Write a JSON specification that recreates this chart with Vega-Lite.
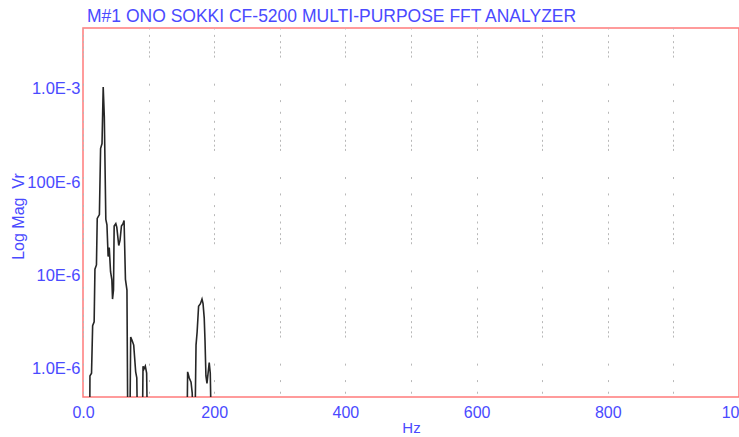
{
  "$schema": "https://vega.github.io/schema/vega-lite/v6.json",
  "autosize": "none",
  "width": 656,
  "height": 369,
  "padding": {"left": 83, "top": 28, "right": 0, "bottom": 40},
  "background": "white",
  "config": {
    "view": {"stroke": "#ff7b7b", "strokeWidth": 1.5},
    "font": "Liberation Sans"
  },
  "title": {
    "text": "M#1 ONO SOKKI CF-5200 MULTI-PURPOSE FFT ANALYZER",
    "anchor": "start",
    "frame": "group",
    "dx": 4,
    "offset": 3,
    "font": "Liberation Sans",
    "fontSize": 17.5,
    "fontWeight": "normal",
    "color": "#4a4aff"
  },
  "data": {
    "values": [
      {"hz": 0, "mag": 1e-7},
      {"hz": 10, "mag": 1e-7},
      {"hz": 10.6, "mag": 8.4e-7},
      {"hz": 13, "mag": 9e-7},
      {"hz": 14.7, "mag": 2.9e-6},
      {"hz": 17, "mag": 3.2e-6},
      {"hz": 18.2, "mag": 1.17e-5},
      {"hz": 20.5, "mag": 1.3e-5},
      {"hz": 21.7, "mag": 4.1e-5},
      {"hz": 25, "mag": 4.5e-5},
      {"hz": 26.8, "mag": 2.3e-4},
      {"hz": 29, "mag": 2.6e-4},
      {"hz": 30.8, "mag": 1.05e-3},
      {"hz": 32.5, "mag": 5e-4},
      {"hz": 34.8, "mag": 4e-5},
      {"hz": 36.5, "mag": 3.5e-5},
      {"hz": 38.3, "mag": 1.6e-5},
      {"hz": 40, "mag": 2e-5},
      {"hz": 42, "mag": 1.1e-5},
      {"hz": 44, "mag": 9e-6},
      {"hz": 45, "mag": 5.6e-6},
      {"hz": 46.5, "mag": 7e-6},
      {"hz": 47.5, "mag": 3.4e-5},
      {"hz": 50, "mag": 3.6e-5},
      {"hz": 51.5, "mag": 3.3e-5},
      {"hz": 54.5, "mag": 2.1e-5},
      {"hz": 56.5, "mag": 2.4e-5},
      {"hz": 58.6, "mag": 3.4e-5},
      {"hz": 61, "mag": 3.6e-5},
      {"hz": 62.6, "mag": 3.9e-5},
      {"hz": 64.7, "mag": 9.1e-6},
      {"hz": 67, "mag": 7e-6},
      {"hz": 68.6, "mag": 1e-7},
      {"hz": 71, "mag": 1e-7},
      {"hz": 72.7, "mag": 2.2e-6},
      {"hz": 75, "mag": 2e-6},
      {"hz": 77.3, "mag": 1.8e-6},
      {"hz": 80.3, "mag": 9.3e-7},
      {"hz": 82, "mag": 8e-7},
      {"hz": 83.8, "mag": 1e-7},
      {"hz": 90, "mag": 1e-7},
      {"hz": 91.5, "mag": 1.07e-6},
      {"hz": 93, "mag": 1.0e-6},
      {"hz": 95, "mag": 1.07e-6},
      {"hz": 97, "mag": 9e-7},
      {"hz": 99, "mag": 1e-7},
      {"hz": 158, "mag": 1e-7},
      {"hz": 159.5, "mag": 9.3e-7},
      {"hz": 162, "mag": 8e-7},
      {"hz": 164.7, "mag": 7.2e-7},
      {"hz": 166.5, "mag": 5.5e-7},
      {"hz": 168.2, "mag": 1e-7},
      {"hz": 170, "mag": 1e-7},
      {"hz": 172.3, "mag": 1.8e-6},
      {"hz": 174, "mag": 2.5e-6},
      {"hz": 176.2, "mag": 4.7e-6},
      {"hz": 179, "mag": 5e-6},
      {"hz": 181.4, "mag": 5.6e-6},
      {"hz": 183, "mag": 5e-6},
      {"hz": 184.8, "mag": 3.5e-6},
      {"hz": 186, "mag": 2e-6},
      {"hz": 187.4, "mag": 8.4e-7},
      {"hz": 189, "mag": 7e-7},
      {"hz": 192.4, "mag": 1.17e-6},
      {"hz": 194, "mag": 9e-7},
      {"hz": 196.5, "mag": 1e-7},
      {"hz": 1000, "mag": 1e-7}
    ]
  },
  "mark": {"type": "line", "color": "#262626", "strokeWidth": 1.6, "clip": true, "interpolate": "linear"},
  "encoding": {
    "x": {
      "field": "hz",
      "type": "quantitative",
      "scale": {"domain": [0, 1000], "nice": false, "zero": false},
      "axis": {
        "title": "Hz",
        "values": [0, 100, 200, 300, 400, 500, 600, 700, 800, 900, 1000],
        "labelExpr": "datum.value == 0 ? '0.0' : (datum.value % 200 == 0 ? format(datum.value, 'd') : '')",
        "labelFlush": false,
        "labelOverlap": false,
        "labelPadding": 7,
        "labelFont": "Liberation Sans",
        "labelFontSize": 16,
        "labelColor": "#4a4aff",
        "titleFont": "Liberation Sans",
        "titleFontSize": 15,
        "titleFontWeight": "normal",
        "titleColor": "#4a4aff",
        "titlePadding": 0,
        "ticks": false,
        "domain": false,
        "grid": true,
        "gridColor": "#b8b8b8",
        "gridWidth": 1,
        "gridDash": [1, 5.39, 2, 4.25, 2, 3.41, 2, 2.77, 2, 2.27,
                     2, 26.09, 2, 14.44, 2, 9.66, 2, 7.04, 2, 5.39, 2, 4.25, 2, 3.41, 2, 2.77, 2, 2.27,
                     2, 26.09, 2, 14.44, 2, 9.66, 2, 7.04, 2, 5.39, 2, 4.25, 2, 3.41, 2, 2.77, 2, 2.27,
                     2, 26.09, 2, 14.44, 2, 9.66, 2, 7.04, 2, 5.39, 2, 4.25, 2, 3.41, 2, 2.77, 2, 2.27,
                     2, 26.09, 2, 14.44, 2, 9.66, 2, 20]
      }
    },
    "y": {
      "field": "mag",
      "type": "quantitative",
      "scale": {"type": "log", "domain": [5e-7, 4.5e-3], "nice": false},
      "axis": {
        "title": "Log Mag \u00a0Vr",
        "values": [1e-6, 1e-5, 1e-4, 1e-3],
        "labelExpr": "datum.value > 5e-4 ? '1.0E-3' : (datum.value > 5e-5 ? '100E-6' : (datum.value > 5e-6 ? '10E-6' : '1.0E-6'))",
        "labelFont": "Liberation Sans",
        "labelFontSize": 16.5,
        "labelColor": "#4a4aff",
        "labelPadding": 3,
        "titleFont": "Liberation Sans",
        "titleFontSize": 16,
        "titleFontWeight": "normal",
        "titleColor": "#4a4aff",
        "titleX": -57,
        "titleY": 188,
        "ticks": false,
        "domain": false,
        "grid": false
      }
    }
  }
}
